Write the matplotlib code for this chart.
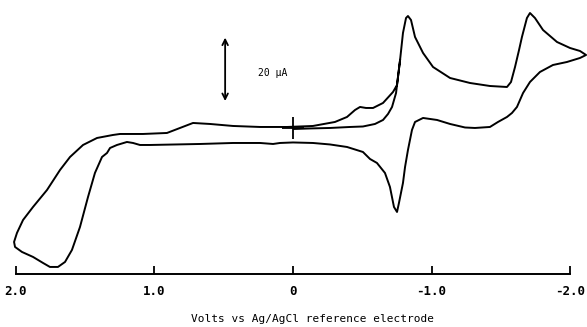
import matplotlib
matplotlib.use("Agg")
import matplotlib.pyplot as plt

# cyclic voltammogram (V vs Ag/AgCl, current in uA, cathodic up)
volts = [
    # first sweep from the start mark towards negative potentials
    -0.007, -0.123, -0.267, -0.412, -0.505, -0.592, -0.650, -0.686, -0.715,
    -0.744, -0.751, -0.773, -0.794, -0.816, -0.830, -0.852, -0.881, -0.939,
    -1.011, -1.134, -1.278, -1.422, -1.545, -1.574, -1.603, -1.632, -1.653,
    -1.689, -1.711, -1.747, -1.805, -1.906, -2.000, -2.072, -2.116,
    # reverse sweep
    -2.072, -1.978, -1.877, -1.783, -1.711, -1.661, -1.617, -1.581, -1.545,
    -1.480, -1.422, -1.314, -1.242, -1.134, -1.040, -0.939, -0.881, -0.859,
    -0.830, -0.809, -0.794, -0.765, -0.751, -0.729, -0.700, -0.664, -0.606,
    -0.556, -0.505, -0.390, -0.267, -0.144, 0.0, 0.094, 0.144, 0.238, 0.433,
    0.671, 1.032, 1.105, 1.155, 1.199, 1.271, 1.321, 1.343, 1.379, 1.430,
    1.480, 1.538, 1.596, 1.646, 1.697, 1.755, 1.805, 1.877, 1.957, 2.007,
    # second forward sweep
    2.014, 1.993, 1.949, 1.877, 1.776, 1.682, 1.610, 1.516, 1.415, 1.300,
    1.249, 1.083, 0.910, 0.816, 0.722, 0.599, 0.433, 0.238, 0.043, -0.144,
    -0.303, -0.390, -0.448, -0.484, -0.527, -0.578, -0.650, -0.722, -0.751,
    -0.773,
]
current = [
    -0.29, -0.14, 0.0, 0.29, 0.43, 1.16, 2.32, 4.06, 6.09,
    10.14, 12.46, 19.71, 27.54, 31.88, 32.46, 31.30, 26.38, 21.74,
    17.68, 14.49, 13.04, 12.17, 11.88, 13.33, 17.68, 22.61, 26.38,
    31.88, 33.33, 31.88, 28.41, 24.93, 23.19, 22.32, 21.16,
    20.29, 19.13, 18.26, 16.23, 13.33, 10.14, 6.09, 4.35, 3.19,
    1.74, 0.29, 0.0, 0.14, 1.16, 2.32, 2.90, 1.74, -0.58,
    -6.38, -11.30, -15.94, -21.74, -24.35, -22.90, -17.10, -13.04, -10.14,
    -8.99, -6.96, -5.51, -4.78, -4.35, -4.20, -4.35, -4.64, -4.35, -4.35,
    -4.64, -4.93, -4.93, -4.35, -4.06, -4.93, -5.80, -7.25, -8.41, -13.04,
    -20.00, -28.70, -35.36, -38.84, -40.29, -40.29, -39.13, -37.39, -35.94, -34.49,
    -33.04, -30.43, -26.67, -22.90, -17.97, -12.17, -8.41, -4.93, -2.90, -2.03,
    -1.74, -1.74, -1.45, 0.0, 1.45, 1.16, 0.58, 0.29, 0.29, 0.58,
    1.74, 3.19, 5.22, 6.09, 5.80, 5.80, 7.25, 10.43, 12.46,
    19.71,
]
start_point = (0.0, 0.0)
tick_volts = [2.0, 1.0, 0.0, -1.0, -2.0]
tick_labels = ["2.0", "1.0", "0", "-1.0", "-2.0"]
scale_bar = 20  # uA

fig = plt.figure(figsize=(5.87, 3.27), dpi=100)
ax = fig.add_axes([0, 0, 1, 1])

ax.plot(volts, current, color="black", lw=1.4, solid_joinstyle="round")
ax.plot(*start_point, marker="+", color="black", ms=16, mew=1.3)

ax.set_xlim(2.1155, -2.1227)
ax.set_ylim(-57.7, 37.1)

# bottom axis sits in the data area like the original
for s in ["top", "left", "right"]:
    ax.spines[s].set_visible(False)
ax.spines["bottom"].set_position(("data", -42.3))
ax.spines["bottom"].set_bounds(-2.0, 2.0)
ax.spines["bottom"].set_linewidth(1.4)
ax.set_yticks([])
ax.set_xticks(tick_volts)
ax.set_xticklabels(tick_labels, fontfamily="DejaVu Sans Mono",
                   fontweight="bold", fontsize=9)
ax.tick_params(axis="x", direction="in", length=6, width=1.3, pad=8)

# 20 uA scale arrow
ax.annotate("", xy=(0.49, 27.0), xytext=(0.49, 27.0 - scale_bar),
            arrowprops=dict(arrowstyle="<->", color="black", lw=1.3))
ax.text(0.25, 15.9, "20 \u00b5A", fontfamily="DejaVu Sans Mono",
        fontsize=7, va="center")

fig.text(0.532, 0.008, "Volts vs Ag/AgCl reference electrode",
         fontfamily="DejaVu Sans Mono", fontsize=8, ha="center", va="bottom")

fig.savefig("out.png", dpi=100, facecolor="white")
